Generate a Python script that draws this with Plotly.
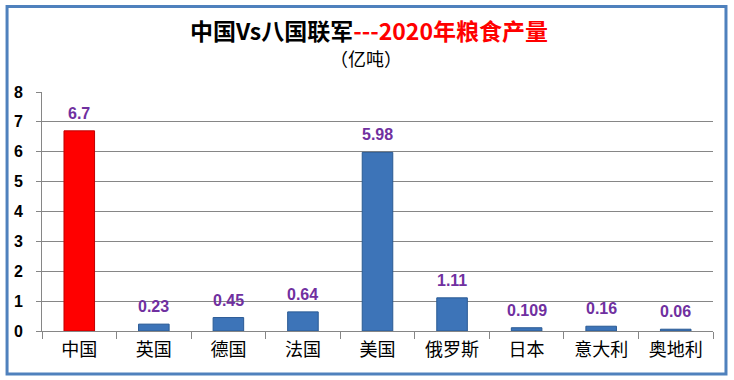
import plotly.graph_objects as go

categories = ["中国", "英国", "德国", "法国", "美国", "俄罗斯", "日本", "意大利", "奥地利"]
values = [6.7, 0.23, 0.45, 0.64, 5.98, 1.11, 0.109, 0.16, 0.06]
value_labels = ["6.7", "0.23", "0.45", "0.64", "5.98", "1.11", "0.109", "0.16", "0.06"]
bar_colors = ["#ff0000"] + ["#3d74b8"] * 8
edge_colors = ["#c00000"] + ["#2a5a94"] * 8

W, H = 734, 380
L, R, T, B = 41.5, 713.5, 92, 331
pw, ph = R - L, B - T

def px(x):
    return (x - L) / pw

def py(y):
    return (B - y) / ph

fig = go.Figure()
fig.add_trace(go.Bar(
    x=categories, y=values, width=0.41,
    marker=dict(color=bar_colors, line=dict(color=edge_colors, width=1)),
    hoverinfo="skip",
))

annotations = []
for c, v, t in zip(categories, values, value_labels):
    annotations.append(dict(
        x=c, y=v, xref="x", yref="y", text=t, showarrow=False,
        yanchor="bottom", yshift=7,
        font=dict(family="Liberation Sans", size=16, color="#7030a0", weight="bold"),
    ))
annotations.append(dict(
    x=px(366), y=py(58), xref="paper", yref="paper", text="（亿吨）",
    showarrow=False, xanchor="center", yanchor="middle",
    font=dict(family="Noto Sans CJK SC", size=18, color="#000000"),
))

fig.update_layout(
    width=W, height=H,
    margin=dict(l=L, r=W - R, t=T, b=H - B, autoexpand=False),
    paper_bgcolor="white", plot_bgcolor="white",
    showlegend=False,
    title=dict(
        text="中国Vs八国联军<span style='color:#ff0000'>---2020年粮食产量</span>",
        x=369 / W, xref="container", xanchor="center",
        y=1 - 32 / H, yref="container", yanchor="middle",
        font=dict(family="Noto Sans CJK SC", size=23, color="#000000", weight="bold"),
    ),
    annotations=annotations,
    shapes=[dict(
        type="rect", xref="paper", yref="paper",
        x0=px(6.5), x1=px(726.5), y0=py(374), y1=py(6.5),
        line=dict(color="#4f81bd", width=3), fillcolor="rgba(0,0,0,0)",
    )],
    xaxis=dict(
        tickson="boundaries", ticks="outside", ticklen=7, tickcolor="#868686",
        showline=True, linecolor="#868686", linewidth=1, showgrid=False,
        tickfont=dict(family="Noto Sans CJK SC", size=18, color="#000000"),
        ticklabelstandoff=2, automargin=False,
    ),
    yaxis=dict(
        range=[0, 8], dtick=1, tick0=0,
        ticks="outside", ticklen=5, tickcolor="#868686",
        showline=True, linecolor="#868686", linewidth=1,
        showgrid=True, gridcolor="#868686", gridwidth=1,
        zeroline=False,
        tickfont=dict(family="Liberation Sans", size=16, color="#000000", weight="bold"),
        ticklabelstandoff=10, automargin=False,
    ),
)

fig.write_html(
    "out.html",
    config={"displayModeBar": False},
    post_script="document.body.style.margin='0';document.body.style.padding='0';",
)
